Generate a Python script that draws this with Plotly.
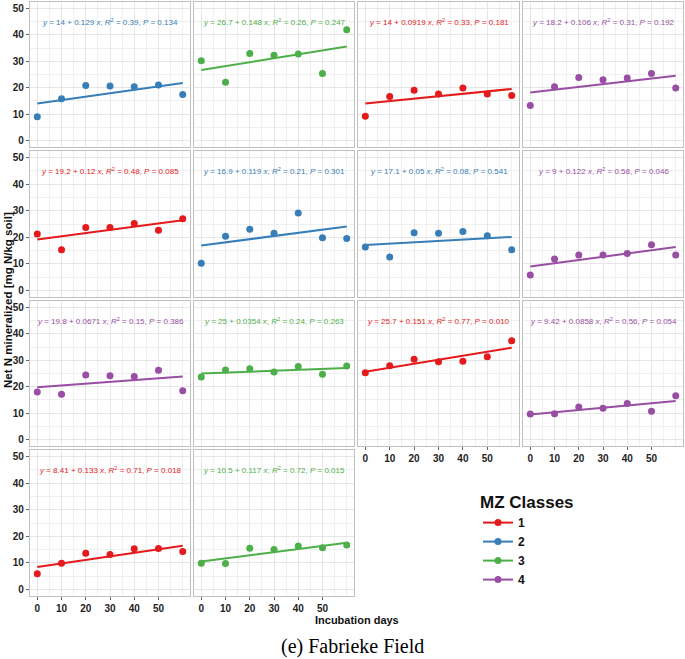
import plotly.graph_objects as go

# ---------------- data ----------------
days = [0, 10, 20, 30, 40, 50, 60]
class_names = ["1", "2", "3", "4"]
class_colors = ["#E41A1C", "#377EB8", "#4DAF4A", "#984EA3"]

panel_class = [2, 3, 1, 4,
               1, 2, 2, 4,
               4, 3, 1, 4,
               1, 3]

panel_values = [
    [9.0, 15.8, 20.8, 20.6, 20.4, 21.0, 17.4],
    [30.2, 22.1, 33.0, 32.3, 32.8, 25.4, 42.0],
    [9.2, 16.7, 19.0, 17.6, 19.9, 17.6, 17.0],
    [13.2, 20.4, 23.9, 23.0, 23.7, 25.4, 19.9],
    [21.2, 15.3, 23.7, 23.7, 25.2, 22.6, 27.0],
    [10.2, 20.4, 23.0, 21.5, 29.1, 19.8, 19.5],
    [16.3, 12.6, 21.7, 21.5, 22.2, 20.6, 15.3],
    [5.8, 11.8, 13.3, 13.3, 13.9, 17.2, 13.3],
    [18.0, 17.1, 24.4, 24.1, 23.9, 26.2, 18.5],
    [23.7, 26.3, 26.8, 25.6, 27.7, 24.7, 27.8],
    [25.3, 27.9, 30.4, 29.5, 29.6, 31.4, 37.4],
    [9.6, 9.7, 12.3, 11.8, 13.6, 10.7, 16.6],
    [5.9, 9.8, 13.6, 13.1, 15.3, 15.4, 14.3],
    [9.8, 9.7, 15.5, 15.0, 16.3, 15.7, 16.7],
]

intercepts = ["14", "26.7", "14", "18.2",
              "19.2", "16.9", "17.1", "9",
              "19.8", "25", "25.7", "9.42",
              "8.41", "10.5"]
slopes = ["0.129", "0.148", "0.0919", "0.106",
          "0.12", "0.119", "0.05", "0.122",
          "0.0671", "0.0354", "0.151", "0.0858",
          "0.133", "0.117"]
r2_values = ["0.39", "0.26", "0.33", "0.31",
             "0.48", "0.21", "0.08", "0.58",
             "0.15", "0.24", "0.77", "0.56",
             "0.71", "0.72"]
p_values = ["0.134", "0.247", "0.181", "0.192",
            "0.085", "0.301", "0.541", "0.046",
            "0.386", "0.263", "0.010", "0.054",
            "0.018", "0.015"]

x_ticks = [0, 10, 20, 30, 40, 50]
y_ticks = [0, 10, 20, 30, 40, 50]

# ---------------- layout geometry ----------------
W, H = 685, 659
col_px = [(30, 190), (194, 354), (358, 519), (523, 683)]
row_px = [(2, 147), (151, 297), (301, 446), (450, 596)]

FONT = "Liberation Sans, Arial, sans-serif"
BORDER = "#c0c0c0"

fig = go.Figure()
annotations = []
layout_axes = {}

for i, vals in enumerate(panel_values):
    r, c = divmod(i, 4)
    k = i + 1
    xa = "x" if k == 1 else f"x{k}"
    ya = "y" if k == 1 else f"y{k}"
    cls = panel_class[i]
    color = class_colors[cls - 1]

    a = float(intercepts[i])
    b = float(slopes[i])
    fit_x = [days[0], days[-1]]
    fit_y = [a + b * xx for xx in fit_x]

    fig.add_trace(go.Scatter(
        x=fit_x, y=fit_y, mode="lines",
        line=dict(color=color, width=2),
        xaxis=xa, yaxis=ya, showlegend=False, hoverinfo="skip",
        legendgroup=class_names[cls - 1]))
    fig.add_trace(go.Scatter(
        x=days, y=vals, mode="markers",
        marker=dict(color=color, size=7),
        xaxis=xa, yaxis=ya, showlegend=False,
        legendgroup=class_names[cls - 1], name=class_names[cls - 1]))

    x0, x1 = col_px[c]
    y0, y1 = row_px[r]
    show_x_labels = (r == 3) or (r == 2 and c >= 2)
    show_y_labels = (c == 0)

    layout_axes["xaxis" if k == 1 else f"xaxis{k}"] = dict(
        domain=[x0 / W, x1 / W], anchor=ya,
        range=[-3, 63], tickvals=x_ticks,
        showticklabels=show_x_labels,
        ticks="outside" if show_x_labels else "", ticklen=3, tickcolor="#666666",
        tickfont=dict(family=FONT, size=10, color="#222222", weight="bold"),
        showgrid=True, gridcolor="#e6e6e6", gridwidth=1, zeroline=False,
        minor=dict(tickvals=[5, 15, 25, 35, 45, 55, 60], showgrid=True,
                   gridcolor="#f0f0f0", gridwidth=1),
        showline=True, mirror=True, linecolor=BORDER, linewidth=1.3,
    )
    layout_axes["yaxis" if k == 1 else f"yaxis{k}"] = dict(
        domain=[1 - y1 / H, 1 - y0 / H], anchor=xa,
        range=[-2.5, 52.5], tickvals=y_ticks,
        showticklabels=show_y_labels,
        ticks="outside" if show_y_labels else "", ticklen=3, tickcolor="#666666",
        tickfont=dict(family=FONT, size=10, color="#222222", weight="bold"),
        showgrid=True, gridcolor="#e6e6e6", gridwidth=1, zeroline=False,
        minor=dict(tickvals=[5, 15, 25, 35, 45], showgrid=True,
                   gridcolor="#f0f0f0", gridwidth=1),
        showline=True, mirror=True, linecolor=BORDER, linewidth=1.3,
    )

    label = (f"<i>y</i> = {intercepts[i]} + {slopes[i]} <i>x</i>, "
             f"<i>R</i><sup>2</sup> = {r2_values[i]}, <i>P</i> = {p_values[i]}")
    annotations.append(dict(
        x=30, y=45, xref=xa, yref=ya, text=label, showarrow=False,
        xanchor="center", yanchor="middle",
        font=dict(family=FONT, size=8, color=color)))

# legend entries (one per class)
for j, name in enumerate(class_names):
    fig.add_trace(go.Scatter(
        x=[None], y=[None], mode="lines+markers", name=name,
        line=dict(color=class_colors[j], width=2),
        marker=dict(color=class_colors[j], size=7),
        xaxis="x", yaxis="y", showlegend=True))

# axis titles & caption
annotations.append(dict(
    x=8 / W, y=1 - 300 / H, xref="paper", yref="paper",
    xanchor="center", yanchor="middle",
    text="Net N mineralized [mg N/kg soil]", textangle=-90, showarrow=False,
    font=dict(family=FONT, size=11.5, color="#111111", weight="bold")))
annotations.append(dict(
    x=357 / W, y=1 - 619.5 / H, xref="paper", yref="paper",
    xanchor="center", yanchor="middle",
    text="Incubation days", showarrow=False,
    font=dict(family=FONT, size=11, color="#111111", weight="bold")))
annotations.append(dict(
    x=352 / W, y=1 - 646 / H, xref="paper", yref="paper",
    xanchor="center", yanchor="middle",
    text="(e) Fabrieke Field", showarrow=False,
    font=dict(family="Liberation Serif, Times New Roman, serif", size=20, color="#000000")))

fig.update_layout(
    width=W, height=H,
    margin=dict(l=0, r=0, t=0, b=0),
    paper_bgcolor="white", plot_bgcolor="white",
    annotations=annotations,
    legend=dict(
        title=dict(text="MZ Classes", font=dict(family=FONT, size=17, color="#111111", weight="bold")),
        font=dict(family=FONT, size=12, color="#111111", weight="bold"),
        x=478 / W, y=1 - 486 / H, xanchor="left", yanchor="top",
        bgcolor="rgba(0,0,0,0)", itemwidth=30,
    ),
    **layout_axes,
)

fig.write_html("out.html", config={"displayModeBar": False},
               post_script="document.body.style.margin='0';")
